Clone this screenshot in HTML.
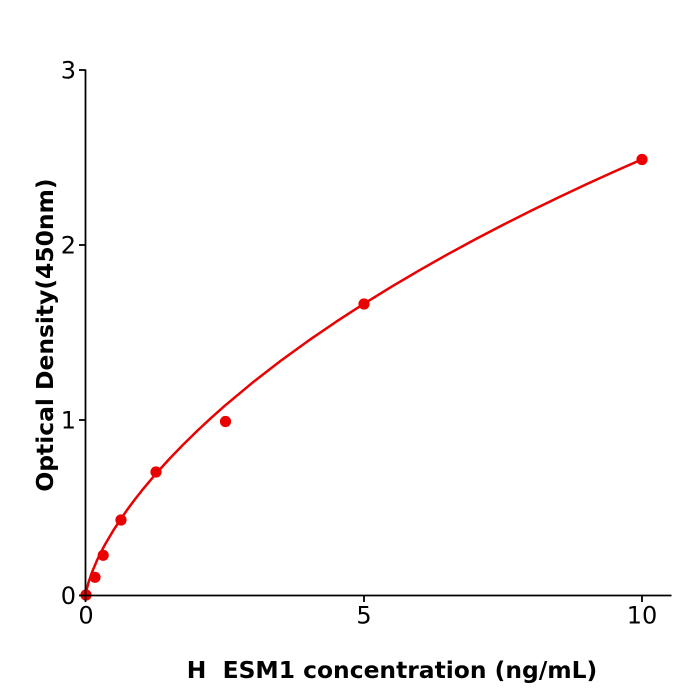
<!DOCTYPE html>
<html>
<head>
<meta charset="utf-8">
<style>
  html, body { margin: 0; padding: 0; background: #fff; }
  svg { display: block; }
  text { font-family: "DejaVu Sans", "Liberation Sans", sans-serif; fill: #000; }
</style>
</head>
<body>
<svg width="700" height="700" viewBox="0 0 700 700" xmlns="http://www.w3.org/2000/svg">
  <rect x="0" y="0" width="700" height="700" fill="#fff"/>

  <!-- curve -->
  <path d="M86,595 L86.56,590.64 L87.11,587.9 L88.78,581.63 L91.56,573.37 L97.12,560.07 L102.68,548.87 L105.46,543.73 L113.8,529.64 L120.75,519.05 L127.7,509.08 L134.65,499.71 L141.6,490.84 L155.5,474.25 L169.4,458.87 L183.3,444.48 L197.2,430.87 L211.1,417.95 L225,405.6 L252.8,382.4 L280.6,360.92 L308.4,340.7 L336.2,321.72 L364,303.7 L391.8,286.56 L419.6,270.2 L447.4,254.45 L475.2,239.4 L503,224.89 L530.8,210.9 L558.6,197.36 L586.4,184.3 L614.2,171.66 L642,159.4"
        fill="none" stroke="#ea0000" stroke-width="2.5" stroke-linejoin="round" stroke-linecap="round"/>

  <!-- data points -->
  <g fill="#ea0000">
    <circle cx="86" cy="595" r="5.6"/>
    <circle cx="95" cy="577.3" r="5.6"/>
    <circle cx="103.2" cy="555.3" r="5.6"/>
    <circle cx="121" cy="520" r="5.6"/>
    <circle cx="156" cy="472" r="5.6"/>
    <circle cx="225.5" cy="421.5" r="5.6"/>
    <circle cx="364" cy="304" r="5.6"/>
    <circle cx="642" cy="159.5" r="5.6"/>
  </g>

  <!-- axes -->
  <g stroke="#000" stroke-width="1.8" fill="none">
    <line x1="85.5" y1="69.5" x2="85.5" y2="595.5"/>
    <line x1="84.6" y1="595.5" x2="671.5" y2="595.5"/>
    <!-- y ticks -->
    <line x1="79" y1="70" x2="85.5" y2="70"/>
    <line x1="79" y1="245" x2="85.5" y2="245"/>
    <line x1="79" y1="420" x2="85.5" y2="420"/>
    <line x1="79" y1="595.5" x2="85.5" y2="595.5"/>
    <!-- x ticks -->
    <line x1="85.5" y1="595.5" x2="85.5" y2="602"/>
    <line x1="364" y1="595.5" x2="364" y2="602"/>
    <line x1="642" y1="595.5" x2="642" y2="602"/>
  </g>

  <!-- y tick labels -->
  <g font-size="24" text-anchor="end">
    <text x="76" y="78.5">3</text>
    <text x="76" y="253.5">2</text>
    <text x="76" y="428.5">1</text>
    <text x="76" y="604">0</text>
  </g>
  <!-- x tick labels -->
  <g font-size="24" text-anchor="middle">
    <text x="86" y="623.5">0</text>
    <text x="364" y="623.5">5</text>
    <text x="642" y="623.5">10</text>
  </g>

  <!-- axis titles -->
  <text x="392" y="678" font-size="23.4" font-weight="bold" text-anchor="middle" xml:space="preserve">H  ESM1 concentration (ng/mL)</text>
  <text transform="translate(53,335) rotate(-90)" font-size="23.4" font-weight="bold" text-anchor="middle">Optical Density(450nm)</text>
</svg>
</body>
</html>
